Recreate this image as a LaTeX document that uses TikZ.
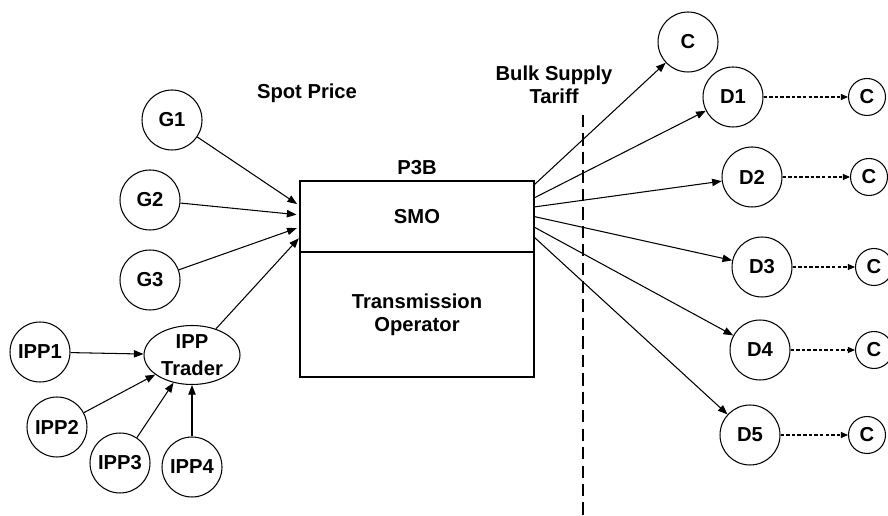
\documentclass[tikz,border=0pt]{standalone}
\usepackage{fontspec}
\setmainfont{Liberation Sans}
\usetikzlibrary{positioning,arrows.meta,shapes.geometric}

\begin{document}
\begin{tikzpicture}[x=0.02cm,y=-0.02cm,line width=0.6pt,
  every node/.style={font=\bfseries\fontsize{11.5}{13}\selectfont},
  unit/.style={draw,circle,minimum size=1.2cm,inner sep=0pt},
  cust/.style={draw,circle,minimum size=0.74cm,inner sep=0pt},
  block/.style={draw,line width=0.8pt,outer sep=0pt,minimum width=4.68cm,align=center},
  flow/.style={-{Triangle[length=5.5pt,width=4.2pt]}},
  feed/.style={-{Triangle[length=4pt,width=3.4pt]},dash pattern=on 2pt off 1.2pt}]
  \useasboundingbox (0,0) rectangle (888,516);
  % P3B block
  \node[block,minimum height=1.42cm] (smo) at (417,216.5) {SMO};
  \node[block,minimum height=2.5cm,below=0pt of smo] (tso) {Transmission\\Operator};
  \node[above=0pt of smo] (p3b) {P3B};
  % price labels and boundary
  \node[anchor=base] (spot) at (307,99) {Spot Price};
  \node[align=center] (bst) at (554,85) {Bulk Supply\\Tariff};
  \coordinate (cuttop) at (583,115);
  \coordinate (cutbot) at (583,516);
  \draw[line width=1.3pt,dash pattern=on 7pt off 3.5pt] (cuttop) -- (cutbot);
  % generators
  \node[unit] (g1) at (172,120) {G1};
  \node[unit] (g2) at (150,200) {G2};
  \node[unit] (g3) at (150,280) {G3};
  \node[draw,ellipse,minimum width=1.92cm,minimum height=1.18cm,inner sep=0pt,align=center,font=\bfseries\fontsize{11.5}{15}\selectfont] (trader) at (192,355) {IPP\\Trader};
  \node[unit] (ipp1) at (40,352) {IPP1};
  \node[unit] (ipp2) at (57,427) {IPP2};
  \node[unit] (ipp3) at (120,463) {IPP3};
  \node[unit] (ipp4) at (192,467) {IPP4};
  \draw[flow,shorten >=2pt] (g1) -- ([yshift=0.21cm]smo.west);
  \draw[flow,shorten >=2pt] (g2) -- ([yshift=0.03cm]smo.west);
  \draw[flow,shorten >=2pt] (g3) -- ([yshift=-0.21cm]smo.west);
  \draw[flow,shorten >=1pt] (trader) -- ([yshift=-0.41cm]smo.west);
  \draw[flow] (ipp1) -- (trader);
  \draw[flow] (ipp2) -- (trader);
  \draw[flow] (ipp3) -- (trader);
  \draw[flow] (ipp4) -- (trader);
  % distributors and customers
  \node[unit] (ctop) at (688,42) {C};
  \node[unit] (d1) at (733,97) {D1};
  \node[unit] (d2) at (752,177) {D2};
  \node[unit] (d3) at (762,267) {D3};
  \node[unit] (d4) at (760,350) {D4};
  \node[unit] (d5) at (750,435) {D5};
  \node[cust] (c1) at (867,97) {C};
  \node[cust] (c2) at (869,177) {C};
  \node[cust] (c3) at (874,267) {C};
  \node[cust] (c4) at (874,350) {C};
  \node[cust] (c5) at (867,435) {C};
  \draw[flow] ([yshift=0.63cm]smo.east) -- (ctop);
  \draw[flow] ([yshift=0.37cm]smo.east) -- (d1);
  \draw[flow] ([yshift=0.19cm]smo.east) -- (d2);
  \draw[flow] (smo.east) -- (d3);
  \draw[flow] ([yshift=-0.21cm]smo.east) -- (d4);
  \draw[flow] ([yshift=-0.41cm]smo.east) -- (d5);
  \draw[feed] (d1) -- (c1);
  \draw[feed] (d2) -- (c2);
  \draw[feed] (d3) -- (c3);
  \draw[feed] (d4) -- (c4);
  \draw[feed] (d5) -- (c5);
\end{tikzpicture}
\end{document}
